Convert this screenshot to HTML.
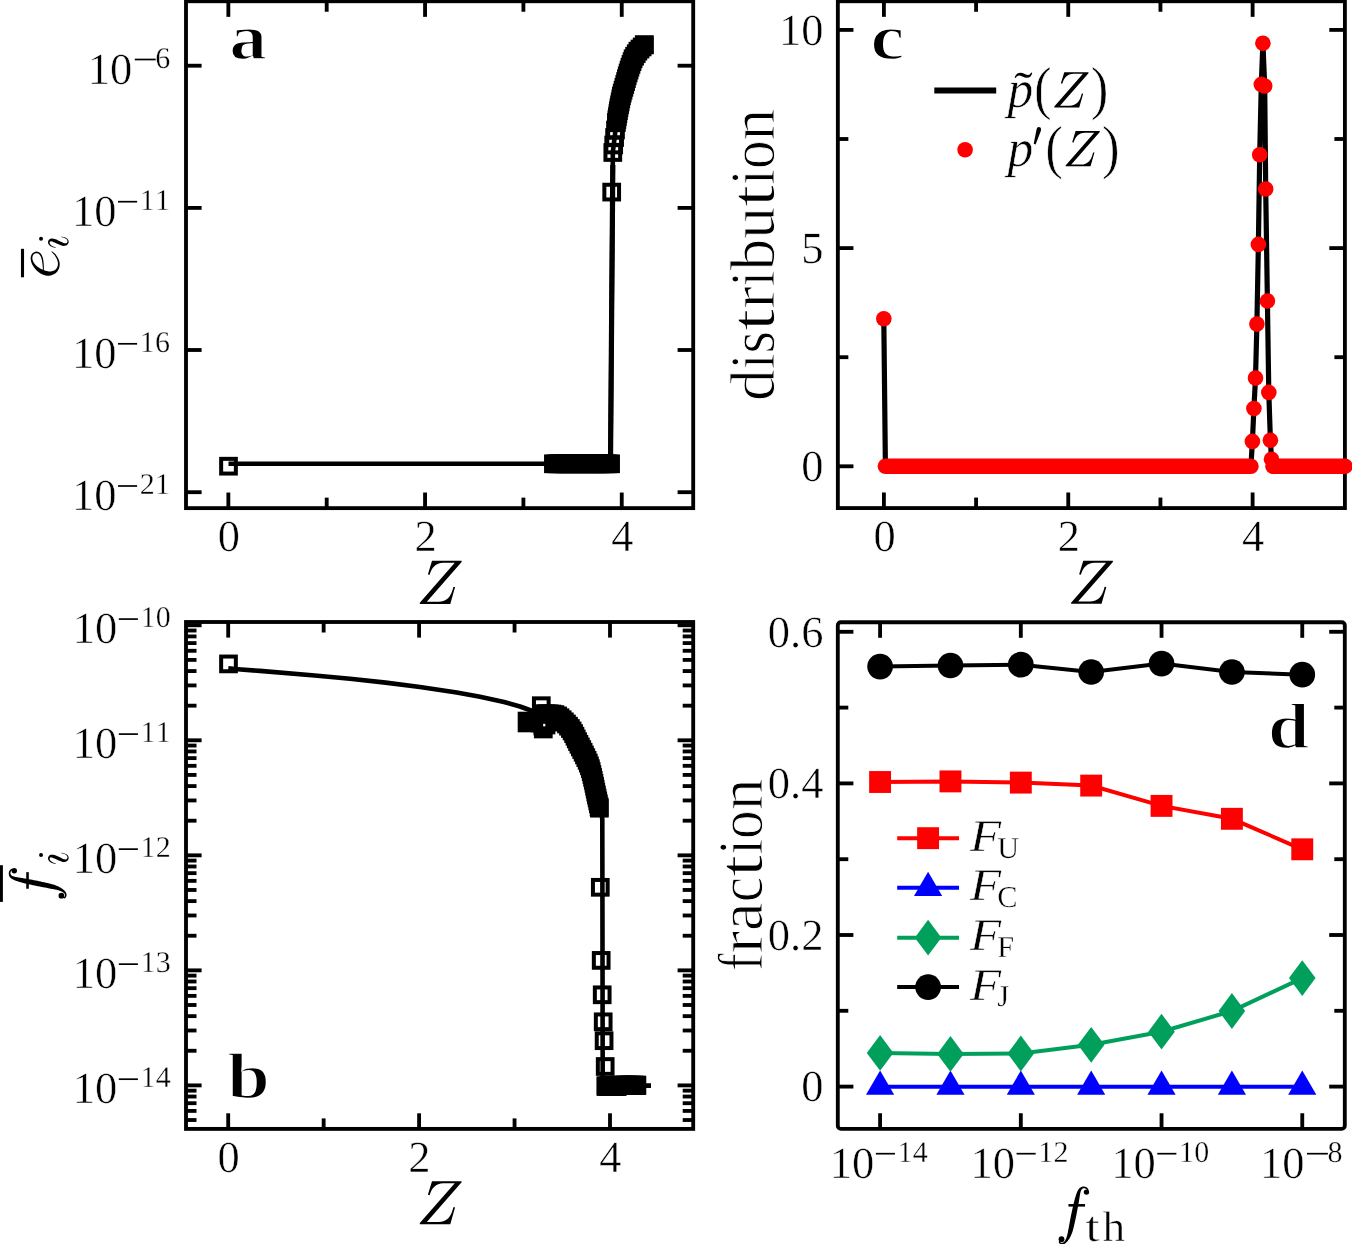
<!DOCTYPE html>
<html><head><meta charset="utf-8"><title>figure</title>
<style>html,body{margin:0;padding:0;background:#fff;}svg{display:block;will-change:transform;}text{text-rendering:geometricPrecision;}</style></head><body>
<svg width="1352" height="1244" viewBox="0 0 1352 1244" font-family='"Liberation Serif", serif' fill="#000">
<rect width="1352" height="1244" fill="#fff"/>
<defs><g id="gf"><path d="M14.95 870.11 L14.78 870.00 L14.54 869.83 L14.24 869.61 L13.89 869.38 L13.51 869.14 L13.10 868.94 L12.65 868.79 L12.16 868.75 L11.71 868.84 L11.31 869.00 L10.93 869.22 L10.59 869.48 L10.27 869.77 L9.98 870.08 L9.72 870.40 L9.49 870.74 L9.29 871.10 L9.13 871.49 L8.99 871.90 L8.88 872.32 L8.80 872.76 L8.75 873.20 L8.73 873.65 L8.76 874.09 L8.81 874.52 L8.89 874.95 L9.01 875.39 L9.16 875.83 L9.36 876.28 L9.60 876.72 L9.90 877.15 L10.25 877.57 L10.65 877.96 L11.09 878.31 L11.56 878.65 L12.05 878.95 L12.55 879.24 L13.06 879.52 L13.57 879.78 L14.10 880.03 L14.64 880.27 L15.20 880.50 L15.77 880.71 L16.35 880.91 L16.94 881.10 L17.54 881.29 L18.16 881.48 L18.82 881.68 L19.49 881.88 L20.14 882.08 L20.81 882.28 L21.51 882.48 L22.28 882.68 L23.14 882.91 L24.11 883.15 L25.24 883.42 L26.53 883.73 L28.00 884.06 L29.58 884.42 L31.25 884.79 L32.97 885.17 L34.71 885.54 L36.42 885.91 L38.07 886.25 L39.72 886.58 L41.44 886.91 L43.19 887.24 L44.92 887.57 L46.59 887.87 L48.18 888.17 L49.63 888.44 L50.92 888.68 L52.03 888.90 L53.00 889.08 L53.85 889.24 L54.61 889.39 L55.30 889.53 L55.95 889.67 L56.59 889.82 L57.25 889.98 L57.90 890.16 L58.50 890.34 L59.07 890.51 L59.61 890.69 L60.13 890.88 L60.62 891.07 L61.09 891.28 L61.55 891.50 L62.00 891.73 L62.43 891.97 L62.85 892.22 L63.23 892.47 L63.59 892.73 L63.90 892.99 L64.17 893.24 L64.39 893.48 L64.57 893.73 L64.71 893.99 L64.82 894.26 L64.90 894.53 L64.95 894.81 L64.98 895.07 L64.98 895.32 L64.96 895.55 L64.92 895.79 L64.84 896.05 L64.73 896.31 L64.60 896.56 L64.46 896.76 L64.34 896.90 L64.26 896.96 L64.27 896.98 L64.21 896.98 L63.96 896.89 L63.62 896.72 L63.24 896.48 L62.85 896.22 L62.49 895.97 L62.17 895.75 L61.93 895.60 L61.28 896.55 L61.48 896.70 L61.76 896.93 L62.11 897.22 L62.50 897.53 L62.92 897.83 L63.36 898.10 L63.82 898.31 L64.35 898.39 L64.86 898.26 L65.26 898.02 L65.58 897.71 L65.84 897.36 L66.06 896.98 L66.24 896.60 L66.38 896.21 L66.48 895.83 L66.54 895.45 L66.57 895.05 L66.55 894.64 L66.50 894.22 L66.42 893.79 L66.29 893.36 L66.12 892.93 L65.90 892.50 L65.64 892.08 L65.34 891.67 L65.00 891.26 L64.64 890.86 L64.25 890.47 L63.83 890.08 L63.40 889.70 L62.95 889.34 L62.48 888.98 L62.00 888.62 L61.49 888.28 L60.96 887.93 L60.40 887.59 L59.80 887.26 L59.17 886.93 L58.51 886.61 L57.84 886.30 L57.18 886.00 L56.50 885.70 L55.78 885.41 L54.99 885.12 L54.11 884.82 L53.11 884.50 L51.98 884.18 L50.66 883.83 L49.19 883.46 L47.60 883.08 L45.92 882.69 L44.20 882.31 L42.46 881.93 L40.75 881.56 L39.10 881.21 L37.45 880.87 L35.73 880.53 L33.99 880.20 L32.25 879.87 L30.57 879.56 L28.98 879.27 L27.51 879.00 L26.21 878.76 L25.08 878.56 L24.10 878.39 L23.24 878.24 L22.47 878.12 L21.77 878.01 L21.10 877.90 L20.45 877.79 L19.76 877.68 L19.08 877.56 L18.43 877.46 L17.82 877.36 L17.25 877.27 L16.72 877.19 L16.21 877.10 L15.72 877.00 L15.23 876.88 L14.72 876.75 L14.22 876.62 L13.73 876.48 L13.28 876.34 L12.86 876.20 L12.48 876.05 L12.15 875.90 L11.88 875.74 L11.64 875.57 L11.41 875.37 L11.21 875.15 L11.03 874.91 L10.87 874.65 L10.73 874.37 L10.62 874.09 L10.54 873.82 L10.48 873.55 L10.46 873.26 L10.46 872.94 L10.49 872.63 L10.55 872.31 L10.63 872.02 L10.72 871.75 L10.83 871.51 L10.96 871.28 L11.14 871.04 L11.33 870.81 L11.55 870.60 L11.77 870.43 L11.98 870.29 L12.16 870.20 L12.28 870.16 L12.40 870.15 L12.62 870.20 L12.92 870.32 L13.25 870.48 L13.58 870.66 L13.89 870.84 L14.16 871.00 L14.38 871.11Z"/><circle cx="14.28" cy="870.74" r="2.70"/><circle cx="61.41" cy="895.69" r="2.89"/><rect x="26.24" y="872.15" width="2.57" height="16.59"/></g><g id="gi"><path d="M55.88 863.51 L55.61 863.42 L55.26 863.31 L54.84 863.18 L54.37 863.03 L53.89 862.86 L53.42 862.68 L52.98 862.49 L52.60 862.29 L52.25 862.08 L51.88 861.85 L51.52 861.61 L51.18 861.35 L50.86 861.09 L50.58 860.83 L50.34 860.56 L50.15 860.31 L50.00 860.05 L49.86 859.77 L49.75 859.48 L49.67 859.20 L49.63 858.93 L49.63 858.69 L49.66 858.49 L49.72 858.34 L49.82 858.17 L49.97 857.97 L50.15 857.78 L50.36 857.60 L50.57 857.45 L50.78 857.36 L50.95 857.32 L51.09 857.33 L51.25 857.37 L51.50 857.43 L51.83 857.53 L52.22 857.67 L52.66 857.84 L53.13 858.03 L53.63 858.24 L54.11 858.43 L54.58 858.62 L55.07 858.83 L55.59 859.07 L56.14 859.33 L56.71 859.60 L57.30 859.87 L57.91 860.14 L58.50 860.38 L59.07 860.60 L59.65 860.84 L60.26 861.08 L60.88 861.32 L61.51 861.54 L62.15 861.74 L62.80 861.89 L63.44 861.98 L64.05 861.99 L64.62 861.94 L65.17 861.85 L65.69 861.71 L66.18 861.52 L66.63 861.29 L67.05 861.03 L67.42 860.72 L67.75 860.37 L68.03 859.97 L68.25 859.55 L68.43 859.11 L68.56 858.66 L68.64 858.20 L68.66 857.74 L68.61 857.30 L68.51 856.89 L68.36 856.47 L68.17 856.06 L67.93 855.65 L67.64 855.25 L67.30 854.87 L66.90 854.52 L66.44 854.21 L65.89 853.93 L65.21 853.68 L64.47 853.45 L63.70 853.24 L62.95 853.05 L62.26 852.89 L61.69 852.75 L61.29 852.65 L61.16 853.08 L61.57 853.21 L62.13 853.38 L62.81 853.58 L63.54 853.80 L64.28 854.05 L64.97 854.31 L65.58 854.59 L66.03 854.86 L66.37 855.14 L66.67 855.46 L66.92 855.79 L67.12 856.13 L67.27 856.47 L67.38 856.81 L67.44 857.13 L67.46 857.42 L67.44 857.69 L67.37 857.97 L67.26 858.25 L67.12 858.53 L66.94 858.79 L66.74 859.01 L66.54 859.17 L66.34 859.28 L66.13 859.35 L65.87 859.40 L65.58 859.42 L65.27 859.42 L64.94 859.39 L64.59 859.35 L64.24 859.27 L63.89 859.18 L63.53 859.06 L63.11 858.89 L62.63 858.67 L62.11 858.42 L61.56 858.15 L60.99 857.86 L60.40 857.57 L59.83 857.31 L59.28 857.06 L58.74 856.79 L58.18 856.52 L57.61 856.24 L57.02 855.96 L56.42 855.70 L55.81 855.46 L55.21 855.27 L54.65 855.11 L54.09 854.97 L53.51 854.85 L52.92 854.75 L52.33 854.68 L51.74 854.65 L51.13 854.69 L50.52 854.82 L49.95 855.07 L49.47 855.40 L49.07 855.78 L48.74 856.20 L48.48 856.63 L48.28 857.06 L48.13 857.49 L48.03 857.93 L48.00 858.38 L48.04 858.82 L48.13 859.24 L48.26 859.65 L48.43 860.04 L48.64 860.42 L48.87 860.77 L49.14 861.10 L49.45 861.42 L49.79 861.71 L50.16 861.99 L50.55 862.25 L50.96 862.49 L51.38 862.72 L51.80 862.92 L52.22 863.11 L52.68 863.28 L53.18 863.42 L53.69 863.55 L54.20 863.65 L54.69 863.75 L55.13 863.83 L55.49 863.89 L55.76 863.95Z"/><circle cx="41.03" cy="854.92" r="1.99"/></g><g id="gz"><path d="M1083.27 560.71L1112.86 560.71L1112.86 561.89L1078.09 601.61L1089.56 601.61C1098.43 601.39 1102.50 596.21 1104.64 586.75L1106.35 586.89L1101.54 603.76L1071.07 603.76L1071.07 602.65L1106.05 562.71L1094.73 562.71C1086.60 562.93 1083.27 567.51 1080.83 574.69L1079.13 574.25Z"/></g></defs>
<g id="pa">
<g fill="none" stroke="#000" stroke-width="4.6">
<polyline stroke-linejoin="miter" points="228.5,463.7 610.5,463.7 612.8,165 612.8,152.5 613.7,145 614.6,137.5 615.5,130 616.4,122.5 616.9,119.5 618.8,108.5 621.5,95.5 624.6,85 627.3,75.5 630.2,66.5 633.4,58 638,51 644.3,44.8"/>
<line x1="610.5" y1="463.7" x2="612.8" y2="165" stroke="#000" stroke-width="5.2" stroke-linecap="butt"/>
<g stroke-width="4">
<rect x="221.15" y="458.85" width="14.7" height="14.7" stroke-width="4"/>
<rect x="546.05" y="456.45" width="14.7" height="14.7" stroke-width="4"/>
<rect x="548.54" y="456.45" width="14.7" height="14.7" stroke-width="4"/>
<rect x="551.02" y="456.45" width="14.7" height="14.7" stroke-width="4"/>
<rect x="553.51" y="456.45" width="14.7" height="14.7" stroke-width="4"/>
<rect x="556" y="456.45" width="14.7" height="14.7" stroke-width="4"/>
<rect x="558.48" y="456.45" width="14.7" height="14.7" stroke-width="4"/>
<rect x="560.97" y="456.45" width="14.7" height="14.7" stroke-width="4"/>
<rect x="563.46" y="456.45" width="14.7" height="14.7" stroke-width="4"/>
<rect x="565.95" y="456.45" width="14.7" height="14.7" stroke-width="4"/>
<rect x="568.43" y="456.45" width="14.7" height="14.7" stroke-width="4"/>
<rect x="570.92" y="456.45" width="14.7" height="14.7" stroke-width="4"/>
<rect x="573.41" y="456.45" width="14.7" height="14.7" stroke-width="4"/>
<rect x="575.89" y="456.45" width="14.7" height="14.7" stroke-width="4"/>
<rect x="578.38" y="456.45" width="14.7" height="14.7" stroke-width="4"/>
<rect x="580.87" y="456.45" width="14.7" height="14.7" stroke-width="4"/>
<rect x="583.35" y="456.45" width="14.7" height="14.7" stroke-width="4"/>
<rect x="585.84" y="456.45" width="14.7" height="14.7" stroke-width="4"/>
<rect x="588.33" y="456.45" width="14.7" height="14.7" stroke-width="4"/>
<rect x="590.82" y="456.45" width="14.7" height="14.7" stroke-width="4"/>
<rect x="593.3" y="456.45" width="14.7" height="14.7" stroke-width="4"/>
<rect x="595.79" y="456.45" width="14.7" height="14.7" stroke-width="4"/>
<rect x="598.28" y="456.45" width="14.7" height="14.7" stroke-width="4"/>
<rect x="600.76" y="456.45" width="14.7" height="14.7" stroke-width="4"/>
<rect x="603.25" y="456.45" width="14.7" height="14.7" stroke-width="4"/>
<rect x="604.35" y="184.75" width="14.7" height="14.7" stroke-width="4"/>
<rect x="605.45" y="145.15" width="14.7" height="14.7" stroke-width="4"/>
<rect x="606.35" y="137.65" width="14.7" height="14.7" stroke-width="4"/>
<rect x="607.25" y="130.15" width="14.7" height="14.7" stroke-width="4"/>
<rect x="608.15" y="122.65" width="14.7" height="14.7" stroke-width="4"/>
<rect x="609.05" y="115.15" width="14.7" height="14.7" stroke-width="4"/>
<rect x="609.54" y="112.19" width="14.7" height="14.7" stroke-width="4"/>
<rect x="610.05" y="109.23" width="14.7" height="14.7" stroke-width="4"/>
<rect x="610.56" y="106.28" width="14.7" height="14.7" stroke-width="4"/>
<rect x="611.07" y="103.32" width="14.7" height="14.7" stroke-width="4"/>
<rect x="611.61" y="100.37" width="14.7" height="14.7" stroke-width="4"/>
<rect x="612.22" y="97.43" width="14.7" height="14.7" stroke-width="4"/>
<rect x="612.83" y="94.5" width="14.7" height="14.7" stroke-width="4"/>
<rect x="613.44" y="91.56" width="14.7" height="14.7" stroke-width="4"/>
<rect x="614.05" y="88.62" width="14.7" height="14.7" stroke-width="4"/>
<rect x="614.86" y="85.73" width="14.7" height="14.7" stroke-width="4"/>
<rect x="615.71" y="82.86" width="14.7" height="14.7" stroke-width="4"/>
<rect x="616.56" y="79.98" width="14.7" height="14.7" stroke-width="4"/>
<rect x="617.41" y="77.1" width="14.7" height="14.7" stroke-width="4"/>
<rect x="618.23" y="74.22" width="14.7" height="14.7" stroke-width="4"/>
<rect x="619.05" y="71.33" width="14.7" height="14.7" stroke-width="4"/>
<rect x="619.87" y="68.44" width="14.7" height="14.7" stroke-width="4"/>
<rect x="620.78" y="65.59" width="14.7" height="14.7" stroke-width="4"/>
<rect x="621.7" y="62.73" width="14.7" height="14.7" stroke-width="4"/>
<rect x="622.62" y="59.87" width="14.7" height="14.7" stroke-width="4"/>
<rect x="623.64" y="57.06" width="14.7" height="14.7" stroke-width="4"/>
<rect x="624.7" y="54.25" width="14.7" height="14.7" stroke-width="4"/>
<rect x="625.75" y="51.44" width="14.7" height="14.7" stroke-width="4"/>
<rect x="627.23" y="48.85" width="14.7" height="14.7" stroke-width="4"/>
<rect x="628.88" y="46.34" width="14.7" height="14.7" stroke-width="4"/>
<rect x="630.53" y="43.83" width="14.7" height="14.7" stroke-width="4"/>
<rect x="632.63" y="41.7" width="14.7" height="14.7" stroke-width="4"/>
<rect x="634.77" y="39.6" width="14.7" height="14.7" stroke-width="4"/>
<rect x="636.91" y="37.49" width="14.7" height="14.7" stroke-width="4"/>
<rect x="636.95" y="37.45" width="14.7" height="14.7" stroke-width="4"/>
</g></g>
<rect x="186" y="1.25" width="507.2" height="506.88" fill="none" stroke="#000" stroke-width="3.85" stroke-linejoin="miter"/>
<line x1="228.35" y1="1.25" x2="228.35" y2="16.85" stroke="#000" stroke-width="3.85" stroke-linecap="butt"/>
<line x1="228.35" y1="508.13" x2="228.35" y2="492.53" stroke="#000" stroke-width="3.85" stroke-linecap="butt"/>
<line x1="425.05" y1="1.25" x2="425.05" y2="16.85" stroke="#000" stroke-width="3.85" stroke-linecap="butt"/>
<line x1="425.05" y1="508.13" x2="425.05" y2="492.53" stroke="#000" stroke-width="3.85" stroke-linecap="butt"/>
<line x1="621.75" y1="1.25" x2="621.75" y2="16.85" stroke="#000" stroke-width="3.85" stroke-linecap="butt"/>
<line x1="621.75" y1="508.13" x2="621.75" y2="492.53" stroke="#000" stroke-width="3.85" stroke-linecap="butt"/>
<line x1="326.7" y1="1.25" x2="326.7" y2="11.75" stroke="#000" stroke-width="3.85" stroke-linecap="butt"/>
<line x1="326.7" y1="508.13" x2="326.7" y2="497.63" stroke="#000" stroke-width="3.85" stroke-linecap="butt"/>
<line x1="523.4" y1="1.25" x2="523.4" y2="11.75" stroke="#000" stroke-width="3.85" stroke-linecap="butt"/>
<line x1="523.4" y1="508.13" x2="523.4" y2="497.63" stroke="#000" stroke-width="3.85" stroke-linecap="butt"/>
<line x1="186" y1="65.7" x2="201.6" y2="65.7" stroke="#000" stroke-width="3.85" stroke-linecap="butt"/>
<line x1="693.2" y1="65.7" x2="677.6" y2="65.7" stroke="#000" stroke-width="3.85" stroke-linecap="butt"/>
<line x1="186" y1="207.9" x2="201.6" y2="207.9" stroke="#000" stroke-width="3.85" stroke-linecap="butt"/>
<line x1="693.2" y1="207.9" x2="677.6" y2="207.9" stroke="#000" stroke-width="3.85" stroke-linecap="butt"/>
<line x1="186" y1="350" x2="201.6" y2="350" stroke="#000" stroke-width="3.85" stroke-linecap="butt"/>
<line x1="693.2" y1="350" x2="677.6" y2="350" stroke="#000" stroke-width="3.85" stroke-linecap="butt"/>
<line x1="186" y1="492.2" x2="201.6" y2="492.2" stroke="#000" stroke-width="3.85" stroke-linecap="butt"/>
<line x1="693.2" y1="492.2" x2="677.6" y2="492.2" stroke="#000" stroke-width="3.85" stroke-linecap="butt"/>
<text x="87.8" y="83.7" font-size="44.5" text-anchor="start"   stroke="#fff" stroke-width="0.49">10</text>
<line x1="134.8" y1="59.5" x2="155.7" y2="59.5" stroke="#000" stroke-width="1.7" stroke-linecap="butt"/>
<text x="170.3" y="67.8" font-size="30" text-anchor="end"   stroke="#fff" stroke-width="0.33">6</text>
<text x="72" y="225.9" font-size="44.5" text-anchor="start"   stroke="#fff" stroke-width="0.49">10</text>
<line x1="118" y1="201.7" x2="137.1" y2="201.7" stroke="#000" stroke-width="1.7" stroke-linecap="butt"/>
<text x="162.5" y="210" font-size="30" text-anchor="middle"   stroke="#fff" stroke-width="0.33">1</text>
<text x="147.2" y="210" font-size="30" text-anchor="middle"   stroke="#fff" stroke-width="0.33">1</text>
<text x="72" y="368" font-size="44.5" text-anchor="start"   stroke="#fff" stroke-width="0.49">10</text>
<line x1="118" y1="343.8" x2="137.1" y2="343.8" stroke="#000" stroke-width="1.7" stroke-linecap="butt"/>
<text x="162.5" y="352.1" font-size="30" text-anchor="middle"   stroke="#fff" stroke-width="0.33">6</text>
<text x="147.2" y="352.1" font-size="30" text-anchor="middle"   stroke="#fff" stroke-width="0.33">1</text>
<text x="72" y="510.2" font-size="44.5" text-anchor="start"   stroke="#fff" stroke-width="0.49">10</text>
<line x1="118" y1="486" x2="137.1" y2="486" stroke="#000" stroke-width="1.7" stroke-linecap="butt"/>
<text x="162.5" y="494.3" font-size="30" text-anchor="middle"   stroke="#fff" stroke-width="0.33">1</text>
<text x="147.2" y="494.3" font-size="30" text-anchor="middle"   stroke="#fff" stroke-width="0.33">2</text>
<text x="228.95" y="551.2" font-size="44.5" text-anchor="middle"  textLength="22.2" lengthAdjust="spacingAndGlyphs" stroke="#fff" stroke-width="0.49">0</text>
<text x="425.65" y="551.2" font-size="44.5" text-anchor="middle"  textLength="22.2" lengthAdjust="spacingAndGlyphs" stroke="#fff" stroke-width="0.49">2</text>
<text x="622.35" y="551.2" font-size="44.5" text-anchor="middle"  textLength="22.2" lengthAdjust="spacingAndGlyphs" stroke="#fff" stroke-width="0.49">4</text>
<use href="#gz" transform="translate(-651.26,0.15)"/>
<text x="229.3" y="59.3" font-size="64.5" text-anchor="start" font-weight="bold" textLength="37.8" lengthAdjust="spacingAndGlyphs" stroke="#fff" stroke-width="1.55">a</text>
<path d="M51.41 251.80 L51.67 252.05 L52.01 252.38 L52.41 252.77 L52.85 253.20 L53.30 253.66 L53.75 254.15 L54.17 254.63 L54.54 255.11 L54.88 255.60 L55.23 256.13 L55.58 256.69 L55.91 257.26 L56.22 257.84 L56.52 258.41 L56.78 258.98 L57.01 259.53 L57.21 260.07 L57.40 260.61 L57.56 261.15 L57.70 261.68 L57.81 262.20 L57.88 262.72 L57.93 263.24 L57.94 263.75 L57.92 264.27 L57.87 264.80 L57.79 265.34 L57.68 265.86 L57.54 266.38 L57.37 266.88 L57.18 267.34 L56.95 267.78 L56.69 268.20 L56.40 268.61 L56.09 269.00 L55.76 269.35 L55.40 269.68 L55.02 269.98 L54.63 270.24 L54.20 270.47 L53.73 270.67 L53.19 270.87 L52.61 271.04 L52.00 271.18 L51.38 271.30 L50.76 271.39 L50.18 271.44 L49.64 271.46 L49.14 271.45 L48.64 271.40 L48.13 271.33 L47.61 271.23 L47.08 271.11 L46.53 270.97 L45.97 270.81 L45.40 270.65 L44.83 270.47 L44.25 270.29 L43.66 270.08 L43.06 269.85 L42.45 269.60 L41.84 269.33 L41.25 269.05 L40.68 268.75 L40.11 268.43 L39.53 268.09 L38.95 267.73 L38.38 267.35 L37.82 266.95 L37.29 266.53 L36.78 266.11 L36.30 265.67 L35.85 265.23 L35.41 264.76 L35.00 264.27 L34.60 263.77 L34.24 263.26 L33.90 262.75 L33.60 262.24 L33.33 261.73 L33.10 261.22 L32.90 260.70 L32.72 260.18 L32.58 259.65 L32.48 259.13 L32.41 258.63 L32.37 258.14 L32.38 257.69 L32.42 257.24 L32.50 256.78 L32.62 256.34 L32.77 255.90 L32.95 255.50 L33.16 255.12 L33.38 254.79 L33.61 254.50 L33.87 254.25 L34.18 254.01 L34.53 253.79 L34.91 253.60 L35.30 253.45 L35.69 253.33 L36.06 253.25 L36.40 253.21 L36.74 253.22 L37.09 253.27 L37.46 253.35 L37.82 253.47 L38.18 253.62 L38.53 253.81 L38.86 254.04 L39.16 254.29 L39.45 254.58 L39.74 254.93 L40.03 255.33 L40.30 255.78 L40.57 256.26 L40.82 256.78 L41.05 257.31 L41.26 257.86 L41.45 258.42 L41.62 259.02 L41.77 259.64 L41.90 260.30 L42.03 260.98 L42.14 261.68 L42.25 262.41 L42.35 263.16 L42.45 263.97 L42.55 264.89 L42.63 265.86 L42.71 266.84 L42.78 267.77 L42.84 268.62 L42.89 269.34 L42.93 269.87 L43.95 269.81 L43.93 269.28 L43.91 268.57 L43.88 267.72 L43.85 266.77 L43.81 265.78 L43.76 264.80 L43.70 263.86 L43.63 263.01 L43.55 262.25 L43.47 261.50 L43.38 260.77 L43.27 260.06 L43.16 259.36 L43.02 258.68 L42.85 258.02 L42.66 257.38 L42.44 256.76 L42.21 256.16 L41.94 255.58 L41.66 255.02 L41.35 254.48 L41.02 253.98 L40.65 253.52 L40.26 253.11 L39.83 252.75 L39.37 252.43 L38.89 252.17 L38.39 251.96 L37.88 251.79 L37.37 251.68 L36.85 251.62 L36.33 251.61 L35.81 251.66 L35.28 251.77 L34.76 251.93 L34.24 252.14 L33.75 252.40 L33.27 252.69 L32.83 253.03 L32.43 253.41 L32.09 253.83 L31.78 254.29 L31.51 254.78 L31.27 255.30 L31.07 255.85 L30.91 256.41 L30.79 256.98 L30.71 257.56 L30.67 258.14 L30.68 258.75 L30.72 259.36 L30.80 259.99 L30.91 260.62 L31.06 261.25 L31.23 261.88 L31.43 262.51 L31.66 263.14 L31.92 263.78 L32.22 264.42 L32.54 265.06 L32.90 265.70 L33.28 266.34 L33.69 266.96 L34.12 267.57 L34.57 268.17 L35.06 268.78 L35.58 269.37 L36.12 269.95 L36.68 270.52 L37.27 271.07 L37.87 271.59 L38.49 272.09 L39.12 272.55 L39.78 273.00 L40.46 273.43 L41.16 273.83 L41.87 274.20 L42.59 274.53 L43.32 274.83 L44.05 275.08 L44.77 275.28 L45.50 275.45 L46.23 275.58 L46.99 275.67 L47.76 275.72 L48.53 275.72 L49.32 275.66 L50.10 275.55 L50.88 275.38 L51.66 275.15 L52.42 274.86 L53.17 274.54 L53.89 274.18 L54.58 273.79 L55.23 273.38 L55.83 272.94 L56.37 272.47 L56.86 271.98 L57.31 271.46 L57.70 270.92 L58.05 270.37 L58.36 269.81 L58.63 269.25 L58.87 268.68 L59.09 268.09 L59.27 267.48 L59.42 266.86 L59.54 266.23 L59.62 265.59 L59.67 264.96 L59.69 264.33 L59.68 263.71 L59.63 263.10 L59.54 262.48 L59.43 261.88 L59.28 261.28 L59.11 260.68 L58.90 260.09 L58.68 259.51 L58.43 258.93 L58.14 258.33 L57.82 257.73 L57.48 257.13 L57.11 256.54 L56.72 255.95 L56.32 255.39 L55.91 254.85 L55.49 254.34 L55.04 253.85 L54.54 253.37 L54.02 252.91 L53.50 252.48 L53.01 252.08 L52.57 251.74 L52.20 251.45 L51.93 251.23Z"/>
<line x1="22.5" y1="248.8" x2="22.5" y2="277.3" stroke="#000" stroke-width="3.1" stroke-linecap="butt"/>
<use href="#gi" transform="translate(0,-616.1)"/>
</g>
<g id="pc">
<rect x="837.85" y="1.25" width="507.05" height="506.83" fill="none" stroke="#000" stroke-width="3.85" stroke-linejoin="miter"/>
<line x1="883.9" y1="1.25" x2="883.9" y2="16.85" stroke="#000" stroke-width="3.85" stroke-linecap="butt"/>
<line x1="883.9" y1="508.08" x2="883.9" y2="492.48" stroke="#000" stroke-width="3.85" stroke-linecap="butt"/>
<line x1="1068.26" y1="1.25" x2="1068.26" y2="16.85" stroke="#000" stroke-width="3.85" stroke-linecap="butt"/>
<line x1="1068.26" y1="508.08" x2="1068.26" y2="492.48" stroke="#000" stroke-width="3.85" stroke-linecap="butt"/>
<line x1="1252.62" y1="1.25" x2="1252.62" y2="16.85" stroke="#000" stroke-width="3.85" stroke-linecap="butt"/>
<line x1="1252.62" y1="508.08" x2="1252.62" y2="492.48" stroke="#000" stroke-width="3.85" stroke-linecap="butt"/>
<line x1="976.08" y1="1.25" x2="976.08" y2="11.75" stroke="#000" stroke-width="3.85" stroke-linecap="butt"/>
<line x1="976.08" y1="508.08" x2="976.08" y2="497.58" stroke="#000" stroke-width="3.85" stroke-linecap="butt"/>
<line x1="1160.44" y1="1.25" x2="1160.44" y2="11.75" stroke="#000" stroke-width="3.85" stroke-linecap="butt"/>
<line x1="1160.44" y1="508.08" x2="1160.44" y2="497.58" stroke="#000" stroke-width="3.85" stroke-linecap="butt"/>
<line x1="837.85" y1="466.3" x2="853.45" y2="466.3" stroke="#000" stroke-width="3.85" stroke-linecap="butt"/>
<line x1="1344.9" y1="466.3" x2="1329.3" y2="466.3" stroke="#000" stroke-width="3.85" stroke-linecap="butt"/>
<line x1="837.85" y1="248.1" x2="853.45" y2="248.1" stroke="#000" stroke-width="3.85" stroke-linecap="butt"/>
<line x1="1344.9" y1="248.1" x2="1329.3" y2="248.1" stroke="#000" stroke-width="3.85" stroke-linecap="butt"/>
<line x1="837.85" y1="29.9" x2="853.45" y2="29.9" stroke="#000" stroke-width="3.85" stroke-linecap="butt"/>
<line x1="1344.9" y1="29.9" x2="1329.3" y2="29.9" stroke="#000" stroke-width="3.85" stroke-linecap="butt"/>
<line x1="837.85" y1="357.2" x2="848.35" y2="357.2" stroke="#000" stroke-width="3.85" stroke-linecap="butt"/>
<line x1="1344.9" y1="357.2" x2="1334.4" y2="357.2" stroke="#000" stroke-width="3.85" stroke-linecap="butt"/>
<line x1="837.85" y1="139" x2="848.35" y2="139" stroke="#000" stroke-width="3.85" stroke-linecap="butt"/>
<line x1="1344.9" y1="139" x2="1334.4" y2="139" stroke="#000" stroke-width="3.85" stroke-linecap="butt"/>
<polyline fill="none" stroke="#000" stroke-width="5.2" stroke-linejoin="round" points="883.8,318.7 885.4,466.3 1250.9,466.3 1252.4,441.4 1253.9,408.6 1255.5,378.1 1256.9,324.1 1258.4,244.4 1259.7,154.8 1261.3,84.4 1262.9,43.2 1264.7,86 1265.7,189 1267.4,301 1268.8,392.4 1270.4,440.3 1271.5,459.2 1273,466.3 1345,466.3"/>
<g fill="#f00">
<line x1="885.4" y1="466.3" x2="1250.9" y2="466.3" stroke="#f00" stroke-width="15.6" stroke-linecap="round"/>
<line x1="1273" y1="466.3" x2="1345" y2="466.3" stroke="#f00" stroke-width="15.6" stroke-linecap="round"/>
<circle cx="883.8" cy="318.7" r="7.8"/>
<circle cx="1252.4" cy="441.4" r="7.8"/>
<circle cx="1253.9" cy="408.6" r="7.8"/>
<circle cx="1255.5" cy="378.1" r="7.8"/>
<circle cx="1256.9" cy="324.1" r="7.8"/>
<circle cx="1258.4" cy="244.4" r="7.8"/>
<circle cx="1259.7" cy="154.8" r="7.8"/>
<circle cx="1261.3" cy="84.4" r="7.8"/>
<circle cx="1262.9" cy="43.2" r="7.8"/>
<circle cx="1264.7" cy="86" r="7.8"/>
<circle cx="1265.7" cy="189" r="7.8"/>
<circle cx="1267.4" cy="301" r="7.8"/>
<circle cx="1268.8" cy="392.4" r="7.8"/>
<circle cx="1270.4" cy="440.3" r="7.8"/>
<circle cx="1271.5" cy="459.2" r="7.8"/>
</g>
<text x="823.5" y="45" font-size="44.5" text-anchor="end"   stroke="#fff" stroke-width="0.49">10</text>
<text x="823.4" y="263" font-size="44.5" text-anchor="end"   stroke="#fff" stroke-width="0.49">5</text>
<text x="823.6" y="481.2" font-size="44.5" text-anchor="end"   stroke="#fff" stroke-width="0.49">0</text>
<text x="884.5" y="551.2" font-size="44.5" text-anchor="middle"  textLength="22.2" lengthAdjust="spacingAndGlyphs" stroke="#fff" stroke-width="0.49">0</text>
<text x="1068.86" y="551.2" font-size="44.5" text-anchor="middle"  textLength="22.2" lengthAdjust="spacingAndGlyphs" stroke="#fff" stroke-width="0.49">2</text>
<text x="1253.22" y="551.2" font-size="44.5" text-anchor="middle"  textLength="22.2" lengthAdjust="spacingAndGlyphs" stroke="#fff" stroke-width="0.49">4</text>
<use href="#gz"/>
<text x="870.4" y="58.9" font-size="64.5" text-anchor="start" font-weight="bold" textLength="33.8" lengthAdjust="spacingAndGlyphs" stroke="#fff" stroke-width="1.55">c</text>
<g transform="translate(774,401.07) rotate(-90)">
<text x="0" y="0" font-size="63.5" text-anchor="start"  textLength="31.72" lengthAdjust="spacingAndGlyphs" stroke="#fff" stroke-width="1.0" >d</text>
<text x="31.72" y="0" font-size="63.5" text-anchor="start"  textLength="15.86" lengthAdjust="spacingAndGlyphs" stroke="#fff" stroke-width="1.0" >i</text>
<text x="47.59" y="0" font-size="63.5" text-anchor="start"  textLength="22.52" lengthAdjust="spacingAndGlyphs" stroke="#fff" stroke-width="1.0" >s</text>
<text x="70.11" y="0" font-size="63.5" text-anchor="start"  textLength="22.21" lengthAdjust="spacingAndGlyphs" stroke="#fff" stroke-width="1.0" >t</text>
<text x="92.31" y="0" font-size="63.5" text-anchor="start"  textLength="22.37" lengthAdjust="spacingAndGlyphs" stroke="#fff" stroke-width="1.0" >r</text>
<text x="114.68" y="0" font-size="63.5" text-anchor="start"  textLength="15.86" lengthAdjust="spacingAndGlyphs" stroke="#fff" stroke-width="1.0" >i</text>
<text x="130.54" y="0" font-size="63.5" text-anchor="start"  textLength="31.72" lengthAdjust="spacingAndGlyphs" stroke="#fff" stroke-width="1.0" >b</text>
<text x="162.27" y="0" font-size="63.5" text-anchor="start"  textLength="31.72" lengthAdjust="spacingAndGlyphs" stroke="#fff" stroke-width="1.0" >u</text>
<text x="193.99" y="0" font-size="63.5" text-anchor="start"  textLength="22.21" lengthAdjust="spacingAndGlyphs" stroke="#fff" stroke-width="1.0" >t</text>
<text x="216.2" y="0" font-size="63.5" text-anchor="start"  textLength="15.86" lengthAdjust="spacingAndGlyphs" stroke="#fff" stroke-width="1.0" >i</text>
<text x="232.06" y="0" font-size="63.5" text-anchor="start"  textLength="28.55" lengthAdjust="spacingAndGlyphs" stroke="#fff" stroke-width="1.0" >o</text>
<text x="260.61" y="0" font-size="63.5" text-anchor="start"  textLength="31.72" lengthAdjust="spacingAndGlyphs" stroke="#fff" stroke-width="1.0" >n</text>
</g>
<line x1="934.3" y1="90.5" x2="996.2" y2="90.5" stroke="#000" stroke-width="5.8" stroke-linecap="butt"/>
<circle cx="965.1" cy="149.8" r="7.8" fill="#f00"/>
<text x="1007.4" y="107.2" font-size="53" text-anchor="start" font-style="italic" textLength="25.8" lengthAdjust="spacingAndGlyphs" stroke="#fff" stroke-width="0.58">p</text>
<path d="M1014.6 77.4 q1.6 -4.6 5.6 -4.6 q2.2 0 4.6 1.2 q2 1 3.2 1 q2 0 3.2 -2.6 l1.1 0.5 q-1.4 4.9 -5.4 4.9 q-2 0 -4.6 -1.3 q-2 -1 -3.2 -1 q-2.2 0 -3.4 2.5z"/>
<text x="1034" y="106.7" font-size="53" text-anchor="start"  transform="translate(0,97.5) scale(1,1.121) translate(0,-97.5)" stroke="#fff" stroke-width="0.58">(</text>
<use href="#gz" transform="translate(178.16,-386.44) scale(0.818)"/>
<text x="1090.8" y="106.7" font-size="53" text-anchor="start"  transform="translate(0,97.5) scale(1,1.121) translate(0,-97.5)" stroke="#fff" stroke-width="0.58">)</text>
<text x="1007.4" y="166.1" font-size="53" text-anchor="start" font-style="italic" textLength="25.8" lengthAdjust="spacingAndGlyphs" stroke="#fff" stroke-width="0.58">p</text>
<path d="M1038.7 126.9 q2.4 0 2.4 2.4 q0 0.9 -0.5 2.2 l-5.0 12.9 l-1.9 -0.6 l2.9 -14.6 q0.4 -2.3 2.1 -2.3z"/>
<text x="1045.3" y="165.6" font-size="53" text-anchor="start"  transform="translate(0,156.4) scale(1,1.121) translate(0,-156.4)" stroke="#fff" stroke-width="0.58">(</text>
<use href="#gz" transform="translate(189.46,-327.54) scale(0.818)"/>
<text x="1102.1" y="165.6" font-size="53" text-anchor="start"  transform="translate(0,156.4) scale(1,1.121) translate(0,-156.4)" stroke="#fff" stroke-width="0.58">)</text>
</g>
<g id="pb">
<g fill="none" stroke="#000" stroke-width="4.6">
<polyline stroke-linejoin="round" points="228.3,668.3 237.8,669.2 260,670.9 314.7,675.5 350,678.8 385.7,682.6 420,687 456.7,692.5 480,696.8 504,702 520,706.5 532.4,711 543,713.8 549,713.8 556,715 563,720.5 571.5,730 578,742.5 583.5,753 589.5,766 593.2,780 599.5,800 601.6,810 602.3,820 602.7,1085.6 651,1085.6"/>
<rect x="221.15" y="656.55" width="14.7" height="14.7" stroke-width="4"/>
<rect x="533.95" y="698.35" width="14.7" height="14.7" stroke-width="4"/>
<rect x="520.45" y="714.65" width="14.7" height="14.7" stroke-width="4"/>
<rect x="523.15" y="714.65" width="14.7" height="14.7" stroke-width="4"/>
<rect x="520" y="714" width="15" height="16" fill="#000"/>
<rect x="535.45" y="718.65" width="14.7" height="14.7" stroke-width="4"/>
<rect x="532.65" y="715.65" width="14.7" height="14.7" stroke-width="4"/>
<rect x="537.15" y="713.65" width="14.7" height="14.7" stroke-width="4"/>
<rect x="538.65" y="717.65" width="14.7" height="14.7" stroke-width="4"/>
<rect x="535.95" y="721.65" width="14.7" height="14.7" stroke-width="4"/>
<rect x="541.15" y="714.65" width="14.7" height="14.7" stroke-width="4"/>
<rect x="535.65" y="706.45" width="14.7" height="14.7" stroke-width="4"/>
<rect x="538.65" y="706.37" width="14.7" height="14.7" stroke-width="4"/>
<rect x="541.65" y="706.45" width="14.7" height="14.7" stroke-width="4"/>
<rect x="544.64" y="706.67" width="14.7" height="14.7" stroke-width="4"/>
<rect x="547.58" y="707.23" width="14.7" height="14.7" stroke-width="4"/>
<rect x="550.25" y="708.57" width="14.7" height="14.7" stroke-width="4"/>
<rect x="552.64" y="710.38" width="14.7" height="14.7" stroke-width="4"/>
<rect x="554.86" y="712.4" width="14.7" height="14.7" stroke-width="4"/>
<rect x="557.02" y="714.48" width="14.7" height="14.7" stroke-width="4"/>
<rect x="559.12" y="716.62" width="14.7" height="14.7" stroke-width="4"/>
<rect x="561.15" y="718.83" width="14.7" height="14.7" stroke-width="4"/>
<rect x="563.05" y="721.15" width="14.7" height="14.7" stroke-width="4"/>
<rect x="564.75" y="723.62" width="14.7" height="14.7" stroke-width="4"/>
<rect x="566.25" y="726.21" width="14.7" height="14.7" stroke-width="4"/>
<rect x="567.61" y="728.89" width="14.7" height="14.7" stroke-width="4"/>
<rect x="568.91" y="731.59" width="14.7" height="14.7" stroke-width="4"/>
<rect x="570.22" y="734.29" width="14.7" height="14.7" stroke-width="4"/>
<rect x="571.6" y="736.95" width="14.7" height="14.7" stroke-width="4"/>
<rect x="573.02" y="739.6" width="14.7" height="14.7" stroke-width="4"/>
<rect x="574.42" y="742.25" width="14.7" height="14.7" stroke-width="4"/>
<rect x="575.79" y="744.92" width="14.7" height="14.7" stroke-width="4"/>
<rect x="577.12" y="747.61" width="14.7" height="14.7" stroke-width="4"/>
<rect x="578.46" y="750.29" width="14.7" height="14.7" stroke-width="4"/>
<rect x="579.76" y="753" width="14.7" height="14.7" stroke-width="4"/>
<rect x="580.99" y="755.73" width="14.7" height="14.7" stroke-width="4"/>
<rect x="582.1" y="758.52" width="14.7" height="14.7" stroke-width="4"/>
<rect x="583.04" y="761.37" width="14.7" height="14.7" stroke-width="4"/>
<rect x="583.84" y="764.26" width="14.7" height="14.7" stroke-width="4"/>
<rect x="584.57" y="767.17" width="14.7" height="14.7" stroke-width="4"/>
<rect x="585.25" y="770.09" width="14.7" height="14.7" stroke-width="4"/>
<rect x="585.93" y="773.01" width="14.7" height="14.7" stroke-width="4"/>
<rect x="586.6" y="775.94" width="14.7" height="14.7" stroke-width="4"/>
<rect x="587.22" y="778.87" width="14.7" height="14.7" stroke-width="4"/>
<rect x="587.83" y="781.81" width="14.7" height="14.7" stroke-width="4"/>
<rect x="588.44" y="784.75" width="14.7" height="14.7" stroke-width="4"/>
<rect x="589.08" y="787.68" width="14.7" height="14.7" stroke-width="4"/>
<rect x="589.73" y="790.61" width="14.7" height="14.7" stroke-width="4"/>
<rect x="590.39" y="793.53" width="14.7" height="14.7" stroke-width="4"/>
<rect x="591.05" y="796.46" width="14.7" height="14.7" stroke-width="4"/>
<rect x="591.72" y="799.38" width="14.7" height="14.7" stroke-width="4"/>
<rect x="592.05" y="800.85" width="14.7" height="14.7" stroke-width="4"/>
<rect x="592.95" y="879.95" width="14.7" height="14.7" stroke-width="4"/>
<rect x="593.85" y="953.05" width="14.7" height="14.7" stroke-width="4"/>
<rect x="594.85" y="987.45" width="14.7" height="14.7" stroke-width="4"/>
<rect x="595.85" y="1014.45" width="14.7" height="14.7" stroke-width="4"/>
<rect x="596.75" y="1033.35" width="14.7" height="14.7" stroke-width="4"/>
<rect x="597.85" y="1059.15" width="14.7" height="14.7" stroke-width="4"/>
<rect x="598.65" y="1079.25" width="14.7" height="14.7" stroke-width="4"/>
<rect x="598.65" y="1078.25" width="14.7" height="14.7" stroke-width="4"/>
<rect x="601.45" y="1079.25" width="14.7" height="14.7" stroke-width="4"/>
<rect x="601.45" y="1078.25" width="14.7" height="14.7" stroke-width="4"/>
<rect x="604.25" y="1079.25" width="14.7" height="14.7" stroke-width="4"/>
<rect x="604.25" y="1078.25" width="14.7" height="14.7" stroke-width="4"/>
<rect x="607.05" y="1079.25" width="14.7" height="14.7" stroke-width="4"/>
<rect x="607.05" y="1078.25" width="14.7" height="14.7" stroke-width="4"/>
<rect x="609.85" y="1079.25" width="14.7" height="14.7" stroke-width="4"/>
<rect x="609.85" y="1078.25" width="14.7" height="14.7" stroke-width="4"/>
<rect x="612.65" y="1077.65" width="14.7" height="14.7" stroke-width="4"/>
<rect x="612.65" y="1078.25" width="14.7" height="14.7" stroke-width="4"/>
<rect x="615.45" y="1077.65" width="14.7" height="14.7" stroke-width="4"/>
<rect x="615.45" y="1078.25" width="14.7" height="14.7" stroke-width="4"/>
<rect x="618.25" y="1077.65" width="14.7" height="14.7" stroke-width="4"/>
<rect x="618.25" y="1078.25" width="14.7" height="14.7" stroke-width="4"/>
<rect x="621.05" y="1077.65" width="14.7" height="14.7" stroke-width="4"/>
<rect x="621.05" y="1078.25" width="14.7" height="14.7" stroke-width="4"/>
<rect x="623.85" y="1077.65" width="14.7" height="14.7" stroke-width="4"/>
<rect x="623.85" y="1078.25" width="14.7" height="14.7" stroke-width="4"/>
<rect x="626.65" y="1077.65" width="14.7" height="14.7" stroke-width="4"/>
<rect x="626.65" y="1078.25" width="14.7" height="14.7" stroke-width="4"/>
<rect x="629.45" y="1077.65" width="14.7" height="14.7" stroke-width="4"/>
<rect x="629.45" y="1078.25" width="14.7" height="14.7" stroke-width="4"/>
</g>
<rect x="186" y="622" width="507.2" height="506.9" fill="none" stroke="#000" stroke-width="3.85" stroke-linejoin="miter"/>
<line x1="228.2" y1="622" x2="228.2" y2="637.6" stroke="#000" stroke-width="3.85" stroke-linecap="butt"/>
<line x1="228.2" y1="1128.9" x2="228.2" y2="1113.3" stroke="#000" stroke-width="3.85" stroke-linecap="butt"/>
<line x1="419.1" y1="622" x2="419.1" y2="637.6" stroke="#000" stroke-width="3.85" stroke-linecap="butt"/>
<line x1="419.1" y1="1128.9" x2="419.1" y2="1113.3" stroke="#000" stroke-width="3.85" stroke-linecap="butt"/>
<line x1="610" y1="622" x2="610" y2="637.6" stroke="#000" stroke-width="3.85" stroke-linecap="butt"/>
<line x1="610" y1="1128.9" x2="610" y2="1113.3" stroke="#000" stroke-width="3.85" stroke-linecap="butt"/>
<line x1="323.65" y1="622" x2="323.65" y2="632.5" stroke="#000" stroke-width="3.85" stroke-linecap="butt"/>
<line x1="323.65" y1="1128.9" x2="323.65" y2="1118.4" stroke="#000" stroke-width="3.85" stroke-linecap="butt"/>
<line x1="514.55" y1="622" x2="514.55" y2="632.5" stroke="#000" stroke-width="3.85" stroke-linecap="butt"/>
<line x1="514.55" y1="1128.9" x2="514.55" y2="1118.4" stroke="#000" stroke-width="3.85" stroke-linecap="butt"/>
<line x1="186" y1="625.27" x2="201.6" y2="625.27" stroke="#000" stroke-width="3.85" stroke-linecap="butt"/>
<line x1="693.2" y1="625.27" x2="677.6" y2="625.27" stroke="#000" stroke-width="3.85" stroke-linecap="butt"/>
<line x1="186" y1="740.3" x2="201.6" y2="740.3" stroke="#000" stroke-width="3.85" stroke-linecap="butt"/>
<line x1="693.2" y1="740.3" x2="677.6" y2="740.3" stroke="#000" stroke-width="3.85" stroke-linecap="butt"/>
<line x1="186" y1="855.33" x2="201.6" y2="855.33" stroke="#000" stroke-width="3.85" stroke-linecap="butt"/>
<line x1="693.2" y1="855.33" x2="677.6" y2="855.33" stroke="#000" stroke-width="3.85" stroke-linecap="butt"/>
<line x1="186" y1="970.36" x2="201.6" y2="970.36" stroke="#000" stroke-width="3.85" stroke-linecap="butt"/>
<line x1="693.2" y1="970.36" x2="677.6" y2="970.36" stroke="#000" stroke-width="3.85" stroke-linecap="butt"/>
<line x1="186" y1="1085.39" x2="201.6" y2="1085.39" stroke="#000" stroke-width="3.85" stroke-linecap="butt"/>
<line x1="693.2" y1="1085.39" x2="677.6" y2="1085.39" stroke="#000" stroke-width="3.85" stroke-linecap="butt"/>
<line x1="186" y1="705.67" x2="196.5" y2="705.67" stroke="#000" stroke-width="3.85" stroke-linecap="butt"/>
<line x1="693.2" y1="705.67" x2="682.7" y2="705.67" stroke="#000" stroke-width="3.85" stroke-linecap="butt"/>
<line x1="186" y1="685.42" x2="196.5" y2="685.42" stroke="#000" stroke-width="3.85" stroke-linecap="butt"/>
<line x1="693.2" y1="685.42" x2="682.7" y2="685.42" stroke="#000" stroke-width="3.85" stroke-linecap="butt"/>
<line x1="186" y1="671.05" x2="196.5" y2="671.05" stroke="#000" stroke-width="3.85" stroke-linecap="butt"/>
<line x1="693.2" y1="671.05" x2="682.7" y2="671.05" stroke="#000" stroke-width="3.85" stroke-linecap="butt"/>
<line x1="186" y1="659.9" x2="196.5" y2="659.9" stroke="#000" stroke-width="3.85" stroke-linecap="butt"/>
<line x1="693.2" y1="659.9" x2="682.7" y2="659.9" stroke="#000" stroke-width="3.85" stroke-linecap="butt"/>
<line x1="186" y1="650.79" x2="196.5" y2="650.79" stroke="#000" stroke-width="3.85" stroke-linecap="butt"/>
<line x1="693.2" y1="650.79" x2="682.7" y2="650.79" stroke="#000" stroke-width="3.85" stroke-linecap="butt"/>
<line x1="186" y1="643.09" x2="196.5" y2="643.09" stroke="#000" stroke-width="3.85" stroke-linecap="butt"/>
<line x1="693.2" y1="643.09" x2="682.7" y2="643.09" stroke="#000" stroke-width="3.85" stroke-linecap="butt"/>
<line x1="186" y1="636.42" x2="196.5" y2="636.42" stroke="#000" stroke-width="3.85" stroke-linecap="butt"/>
<line x1="693.2" y1="636.42" x2="682.7" y2="636.42" stroke="#000" stroke-width="3.85" stroke-linecap="butt"/>
<line x1="186" y1="630.53" x2="196.5" y2="630.53" stroke="#000" stroke-width="3.85" stroke-linecap="butt"/>
<line x1="693.2" y1="630.53" x2="682.7" y2="630.53" stroke="#000" stroke-width="3.85" stroke-linecap="butt"/>
<line x1="186" y1="820.7" x2="196.5" y2="820.7" stroke="#000" stroke-width="3.85" stroke-linecap="butt"/>
<line x1="693.2" y1="820.7" x2="682.7" y2="820.7" stroke="#000" stroke-width="3.85" stroke-linecap="butt"/>
<line x1="186" y1="800.45" x2="196.5" y2="800.45" stroke="#000" stroke-width="3.85" stroke-linecap="butt"/>
<line x1="693.2" y1="800.45" x2="682.7" y2="800.45" stroke="#000" stroke-width="3.85" stroke-linecap="butt"/>
<line x1="186" y1="786.08" x2="196.5" y2="786.08" stroke="#000" stroke-width="3.85" stroke-linecap="butt"/>
<line x1="693.2" y1="786.08" x2="682.7" y2="786.08" stroke="#000" stroke-width="3.85" stroke-linecap="butt"/>
<line x1="186" y1="774.93" x2="196.5" y2="774.93" stroke="#000" stroke-width="3.85" stroke-linecap="butt"/>
<line x1="693.2" y1="774.93" x2="682.7" y2="774.93" stroke="#000" stroke-width="3.85" stroke-linecap="butt"/>
<line x1="186" y1="765.82" x2="196.5" y2="765.82" stroke="#000" stroke-width="3.85" stroke-linecap="butt"/>
<line x1="693.2" y1="765.82" x2="682.7" y2="765.82" stroke="#000" stroke-width="3.85" stroke-linecap="butt"/>
<line x1="186" y1="758.12" x2="196.5" y2="758.12" stroke="#000" stroke-width="3.85" stroke-linecap="butt"/>
<line x1="693.2" y1="758.12" x2="682.7" y2="758.12" stroke="#000" stroke-width="3.85" stroke-linecap="butt"/>
<line x1="186" y1="751.45" x2="196.5" y2="751.45" stroke="#000" stroke-width="3.85" stroke-linecap="butt"/>
<line x1="693.2" y1="751.45" x2="682.7" y2="751.45" stroke="#000" stroke-width="3.85" stroke-linecap="butt"/>
<line x1="186" y1="745.56" x2="196.5" y2="745.56" stroke="#000" stroke-width="3.85" stroke-linecap="butt"/>
<line x1="693.2" y1="745.56" x2="682.7" y2="745.56" stroke="#000" stroke-width="3.85" stroke-linecap="butt"/>
<line x1="186" y1="935.73" x2="196.5" y2="935.73" stroke="#000" stroke-width="3.85" stroke-linecap="butt"/>
<line x1="693.2" y1="935.73" x2="682.7" y2="935.73" stroke="#000" stroke-width="3.85" stroke-linecap="butt"/>
<line x1="186" y1="915.48" x2="196.5" y2="915.48" stroke="#000" stroke-width="3.85" stroke-linecap="butt"/>
<line x1="693.2" y1="915.48" x2="682.7" y2="915.48" stroke="#000" stroke-width="3.85" stroke-linecap="butt"/>
<line x1="186" y1="901.11" x2="196.5" y2="901.11" stroke="#000" stroke-width="3.85" stroke-linecap="butt"/>
<line x1="693.2" y1="901.11" x2="682.7" y2="901.11" stroke="#000" stroke-width="3.85" stroke-linecap="butt"/>
<line x1="186" y1="889.96" x2="196.5" y2="889.96" stroke="#000" stroke-width="3.85" stroke-linecap="butt"/>
<line x1="693.2" y1="889.96" x2="682.7" y2="889.96" stroke="#000" stroke-width="3.85" stroke-linecap="butt"/>
<line x1="186" y1="880.85" x2="196.5" y2="880.85" stroke="#000" stroke-width="3.85" stroke-linecap="butt"/>
<line x1="693.2" y1="880.85" x2="682.7" y2="880.85" stroke="#000" stroke-width="3.85" stroke-linecap="butt"/>
<line x1="186" y1="873.15" x2="196.5" y2="873.15" stroke="#000" stroke-width="3.85" stroke-linecap="butt"/>
<line x1="693.2" y1="873.15" x2="682.7" y2="873.15" stroke="#000" stroke-width="3.85" stroke-linecap="butt"/>
<line x1="186" y1="866.48" x2="196.5" y2="866.48" stroke="#000" stroke-width="3.85" stroke-linecap="butt"/>
<line x1="693.2" y1="866.48" x2="682.7" y2="866.48" stroke="#000" stroke-width="3.85" stroke-linecap="butt"/>
<line x1="186" y1="860.59" x2="196.5" y2="860.59" stroke="#000" stroke-width="3.85" stroke-linecap="butt"/>
<line x1="693.2" y1="860.59" x2="682.7" y2="860.59" stroke="#000" stroke-width="3.85" stroke-linecap="butt"/>
<line x1="186" y1="1050.76" x2="196.5" y2="1050.76" stroke="#000" stroke-width="3.85" stroke-linecap="butt"/>
<line x1="693.2" y1="1050.76" x2="682.7" y2="1050.76" stroke="#000" stroke-width="3.85" stroke-linecap="butt"/>
<line x1="186" y1="1030.51" x2="196.5" y2="1030.51" stroke="#000" stroke-width="3.85" stroke-linecap="butt"/>
<line x1="693.2" y1="1030.51" x2="682.7" y2="1030.51" stroke="#000" stroke-width="3.85" stroke-linecap="butt"/>
<line x1="186" y1="1016.14" x2="196.5" y2="1016.14" stroke="#000" stroke-width="3.85" stroke-linecap="butt"/>
<line x1="693.2" y1="1016.14" x2="682.7" y2="1016.14" stroke="#000" stroke-width="3.85" stroke-linecap="butt"/>
<line x1="186" y1="1004.99" x2="196.5" y2="1004.99" stroke="#000" stroke-width="3.85" stroke-linecap="butt"/>
<line x1="693.2" y1="1004.99" x2="682.7" y2="1004.99" stroke="#000" stroke-width="3.85" stroke-linecap="butt"/>
<line x1="186" y1="995.88" x2="196.5" y2="995.88" stroke="#000" stroke-width="3.85" stroke-linecap="butt"/>
<line x1="693.2" y1="995.88" x2="682.7" y2="995.88" stroke="#000" stroke-width="3.85" stroke-linecap="butt"/>
<line x1="186" y1="988.18" x2="196.5" y2="988.18" stroke="#000" stroke-width="3.85" stroke-linecap="butt"/>
<line x1="693.2" y1="988.18" x2="682.7" y2="988.18" stroke="#000" stroke-width="3.85" stroke-linecap="butt"/>
<line x1="186" y1="981.51" x2="196.5" y2="981.51" stroke="#000" stroke-width="3.85" stroke-linecap="butt"/>
<line x1="693.2" y1="981.51" x2="682.7" y2="981.51" stroke="#000" stroke-width="3.85" stroke-linecap="butt"/>
<line x1="186" y1="975.62" x2="196.5" y2="975.62" stroke="#000" stroke-width="3.85" stroke-linecap="butt"/>
<line x1="693.2" y1="975.62" x2="682.7" y2="975.62" stroke="#000" stroke-width="3.85" stroke-linecap="butt"/>
<line x1="186" y1="1120.02" x2="196.5" y2="1120.02" stroke="#000" stroke-width="3.85" stroke-linecap="butt"/>
<line x1="693.2" y1="1120.02" x2="682.7" y2="1120.02" stroke="#000" stroke-width="3.85" stroke-linecap="butt"/>
<line x1="186" y1="1110.91" x2="196.5" y2="1110.91" stroke="#000" stroke-width="3.85" stroke-linecap="butt"/>
<line x1="693.2" y1="1110.91" x2="682.7" y2="1110.91" stroke="#000" stroke-width="3.85" stroke-linecap="butt"/>
<line x1="186" y1="1103.21" x2="196.5" y2="1103.21" stroke="#000" stroke-width="3.85" stroke-linecap="butt"/>
<line x1="693.2" y1="1103.21" x2="682.7" y2="1103.21" stroke="#000" stroke-width="3.85" stroke-linecap="butt"/>
<line x1="186" y1="1096.54" x2="196.5" y2="1096.54" stroke="#000" stroke-width="3.85" stroke-linecap="butt"/>
<line x1="693.2" y1="1096.54" x2="682.7" y2="1096.54" stroke="#000" stroke-width="3.85" stroke-linecap="butt"/>
<line x1="186" y1="1090.65" x2="196.5" y2="1090.65" stroke="#000" stroke-width="3.85" stroke-linecap="butt"/>
<line x1="693.2" y1="1090.65" x2="682.7" y2="1090.65" stroke="#000" stroke-width="3.85" stroke-linecap="butt"/>
<text x="72.8" y="643.27" font-size="44.5" text-anchor="start"   stroke="#fff" stroke-width="0.49">10</text>
<line x1="118.8" y1="619.07" x2="137.9" y2="619.07" stroke="#000" stroke-width="1.7" stroke-linecap="butt"/>
<text x="163.3" y="627.37" font-size="30" text-anchor="middle"   stroke="#fff" stroke-width="0.33">0</text>
<text x="148" y="627.37" font-size="30" text-anchor="middle"   stroke="#fff" stroke-width="0.33">1</text>
<text x="72.8" y="758.3" font-size="44.5" text-anchor="start"   stroke="#fff" stroke-width="0.49">10</text>
<line x1="118.8" y1="734.1" x2="137.9" y2="734.1" stroke="#000" stroke-width="1.7" stroke-linecap="butt"/>
<text x="163.3" y="742.4" font-size="30" text-anchor="middle"   stroke="#fff" stroke-width="0.33">1</text>
<text x="148" y="742.4" font-size="30" text-anchor="middle"   stroke="#fff" stroke-width="0.33">1</text>
<text x="72.8" y="873.33" font-size="44.5" text-anchor="start"   stroke="#fff" stroke-width="0.49">10</text>
<line x1="118.8" y1="849.13" x2="137.9" y2="849.13" stroke="#000" stroke-width="1.7" stroke-linecap="butt"/>
<text x="163.3" y="857.43" font-size="30" text-anchor="middle"   stroke="#fff" stroke-width="0.33">2</text>
<text x="148" y="857.43" font-size="30" text-anchor="middle"   stroke="#fff" stroke-width="0.33">1</text>
<text x="72.8" y="988.36" font-size="44.5" text-anchor="start"   stroke="#fff" stroke-width="0.49">10</text>
<line x1="118.8" y1="964.16" x2="137.9" y2="964.16" stroke="#000" stroke-width="1.7" stroke-linecap="butt"/>
<text x="163.3" y="972.46" font-size="30" text-anchor="middle"   stroke="#fff" stroke-width="0.33">3</text>
<text x="148" y="972.46" font-size="30" text-anchor="middle"   stroke="#fff" stroke-width="0.33">1</text>
<text x="72.8" y="1103.39" font-size="44.5" text-anchor="start"   stroke="#fff" stroke-width="0.49">10</text>
<line x1="118.8" y1="1079.19" x2="137.9" y2="1079.19" stroke="#000" stroke-width="1.7" stroke-linecap="butt"/>
<text x="163.3" y="1087.49" font-size="30" text-anchor="middle"   stroke="#fff" stroke-width="0.33">4</text>
<text x="148" y="1087.49" font-size="30" text-anchor="middle"   stroke="#fff" stroke-width="0.33">1</text>
<text x="228.5" y="1171.9" font-size="44.5" text-anchor="middle"  textLength="22.2" lengthAdjust="spacingAndGlyphs" stroke="#fff" stroke-width="0.49">0</text>
<text x="419.4" y="1171.9" font-size="44.5" text-anchor="middle"  textLength="22.2" lengthAdjust="spacingAndGlyphs" stroke="#fff" stroke-width="0.49">2</text>
<text x="610.3" y="1171.9" font-size="44.5" text-anchor="middle"  textLength="22.2" lengthAdjust="spacingAndGlyphs" stroke="#fff" stroke-width="0.49">4</text>
<use href="#gz" transform="translate(-651.26,620.44)"/>
<text x="227.3" y="1097.9" font-size="65" text-anchor="start" font-weight="bold" textLength="42.6" lengthAdjust="spacingAndGlyphs" stroke="#fff" stroke-width="1.56">b</text>
<use href="#gf"/>
<use href="#gi"/>
<line x1="1.4" y1="865.2" x2="1.4" y2="901.9" stroke="#000" stroke-width="3" stroke-linecap="butt"/>
</g>
<g id="pd">
<g fill="#f00" stroke="none">
<polyline fill="none" stroke="#f00" stroke-width="4.0" points="880.1,782 950.46,781.4 1020.82,782.6 1091.18,785.6 1161.54,805.9 1231.9,818.8 1302.26,849.3"/>
<rect x="869.15" y="771.05" width="21.9" height="21.9"/>
<rect x="939.51" y="770.45" width="21.9" height="21.9"/>
<rect x="1009.87" y="771.65" width="21.9" height="21.9"/>
<rect x="1080.23" y="774.65" width="21.9" height="21.9"/>
<rect x="1150.59" y="794.95" width="21.9" height="21.9"/>
<rect x="1220.95" y="807.85" width="21.9" height="21.9"/>
<rect x="1291.31" y="838.35" width="21.9" height="21.9"/>
</g>
<g fill="#00f" stroke="none">
<polyline fill="none" stroke="#00f" stroke-width="4.0" points="880.1,1086.7 950.46,1086.7 1020.82,1086.7 1091.18,1086.7 1161.54,1086.7 1231.9,1086.7 1302.26,1086.7"/>
<path d="M880.1 1070.6 L894.2 1094.75 L866 1094.75z"/>
<path d="M950.46 1070.6 L964.56 1094.75 L936.36 1094.75z"/>
<path d="M1020.82 1070.6 L1034.92 1094.75 L1006.72 1094.75z"/>
<path d="M1091.18 1070.6 L1105.28 1094.75 L1077.08 1094.75z"/>
<path d="M1161.54 1070.6 L1175.64 1094.75 L1147.44 1094.75z"/>
<path d="M1231.9 1070.6 L1246 1094.75 L1217.8 1094.75z"/>
<path d="M1302.26 1070.6 L1316.36 1094.75 L1288.16 1094.75z"/>
</g>
<g fill="#00a05c" stroke="none">
<polyline fill="none" stroke="#00a05c" stroke-width="4.0" points="880.1,1052.9 950.46,1053.9 1020.82,1053.5 1091.18,1044.8 1161.54,1031.7 1231.9,1011 1302.26,978.1"/>
<path d="M880.1 1035 L893.4 1052.9 L880.1 1070.8 L866.8 1052.9z"/>
<path d="M950.46 1036 L963.76 1053.9 L950.46 1071.8 L937.16 1053.9z"/>
<path d="M1020.82 1035.6 L1034.12 1053.5 L1020.82 1071.4 L1007.52 1053.5z"/>
<path d="M1091.18 1026.9 L1104.48 1044.8 L1091.18 1062.7 L1077.88 1044.8z"/>
<path d="M1161.54 1013.8 L1174.84 1031.7 L1161.54 1049.6 L1148.24 1031.7z"/>
<path d="M1231.9 993.1 L1245.2 1011 L1231.9 1028.9 L1218.6 1011z"/>
<path d="M1302.26 960.2 L1315.56 978.1 L1302.26 996 L1288.96 978.1z"/>
</g>
<g fill="#000" stroke="none">
<polyline fill="none" stroke="#000" stroke-width="4.0" points="880.1,666.6 950.46,665.5 1020.82,664.7 1091.18,672 1161.54,663.6 1231.9,672 1302.26,674.7"/>
<circle cx="880.1" cy="666.6" r="12.85"/>
<circle cx="950.46" cy="665.5" r="12.85"/>
<circle cx="1020.82" cy="664.7" r="12.85"/>
<circle cx="1091.18" cy="672" r="12.85"/>
<circle cx="1161.54" cy="663.6" r="12.85"/>
<circle cx="1231.9" cy="672" r="12.85"/>
<circle cx="1302.26" cy="674.7" r="12.85"/>
</g>
<rect x="837.8" y="622.2" width="507" height="506.65" rx="3.1" fill="none" stroke="#000" stroke-width="3.85" stroke-linejoin="round"/>
<line x1="880.1" y1="622.2" x2="880.1" y2="637.8" stroke="#000" stroke-width="3.85" stroke-linecap="butt"/>
<line x1="880.1" y1="1128.85" x2="880.1" y2="1113.25" stroke="#000" stroke-width="3.85" stroke-linecap="butt"/>
<line x1="1020.82" y1="622.2" x2="1020.82" y2="637.8" stroke="#000" stroke-width="3.85" stroke-linecap="butt"/>
<line x1="1020.82" y1="1128.85" x2="1020.82" y2="1113.25" stroke="#000" stroke-width="3.85" stroke-linecap="butt"/>
<line x1="1161.54" y1="622.2" x2="1161.54" y2="637.8" stroke="#000" stroke-width="3.85" stroke-linecap="butt"/>
<line x1="1161.54" y1="1128.85" x2="1161.54" y2="1113.25" stroke="#000" stroke-width="3.85" stroke-linecap="butt"/>
<line x1="1302.26" y1="622.2" x2="1302.26" y2="637.8" stroke="#000" stroke-width="3.85" stroke-linecap="butt"/>
<line x1="1302.26" y1="1128.85" x2="1302.26" y2="1113.25" stroke="#000" stroke-width="3.85" stroke-linecap="butt"/>
<line x1="837.8" y1="1086.6" x2="853.4" y2="1086.6" stroke="#000" stroke-width="3.85" stroke-linecap="butt"/>
<line x1="1344.8" y1="1086.6" x2="1329.2" y2="1086.6" stroke="#000" stroke-width="3.85" stroke-linecap="butt"/>
<line x1="837.8" y1="935" x2="853.4" y2="935" stroke="#000" stroke-width="3.85" stroke-linecap="butt"/>
<line x1="1344.8" y1="935" x2="1329.2" y2="935" stroke="#000" stroke-width="3.85" stroke-linecap="butt"/>
<line x1="837.8" y1="783.4" x2="853.4" y2="783.4" stroke="#000" stroke-width="3.85" stroke-linecap="butt"/>
<line x1="1344.8" y1="783.4" x2="1329.2" y2="783.4" stroke="#000" stroke-width="3.85" stroke-linecap="butt"/>
<line x1="837.8" y1="631.8" x2="853.4" y2="631.8" stroke="#000" stroke-width="3.85" stroke-linecap="butt"/>
<line x1="1344.8" y1="631.8" x2="1329.2" y2="631.8" stroke="#000" stroke-width="3.85" stroke-linecap="butt"/>
<line x1="837.8" y1="1010.8" x2="848.3" y2="1010.8" stroke="#000" stroke-width="3.85" stroke-linecap="butt"/>
<line x1="1344.8" y1="1010.8" x2="1334.3" y2="1010.8" stroke="#000" stroke-width="3.85" stroke-linecap="butt"/>
<line x1="837.8" y1="859.2" x2="848.3" y2="859.2" stroke="#000" stroke-width="3.85" stroke-linecap="butt"/>
<line x1="1344.8" y1="859.2" x2="1334.3" y2="859.2" stroke="#000" stroke-width="3.85" stroke-linecap="butt"/>
<line x1="837.8" y1="707.6" x2="848.3" y2="707.6" stroke="#000" stroke-width="3.85" stroke-linecap="butt"/>
<line x1="1344.8" y1="707.6" x2="1334.3" y2="707.6" stroke="#000" stroke-width="3.85" stroke-linecap="butt"/>
<text x="823.4" y="1101.4" font-size="44.5" text-anchor="end"   stroke="#fff" stroke-width="0.49">0</text>
<text x="823.4" y="949.8" font-size="44.5" text-anchor="end"   stroke="#fff" stroke-width="0.49">0.2</text>
<text x="823.4" y="798.2" font-size="44.5" text-anchor="end"   stroke="#fff" stroke-width="0.49">0.4</text>
<text x="823.4" y="646.6" font-size="44.5" text-anchor="end"   stroke="#fff" stroke-width="0.49">0.6</text>
<text x="829.85" y="1177.9" font-size="44.5" text-anchor="start"   stroke="#fff" stroke-width="0.49">10</text>
<line x1="875.85" y1="1153.7" x2="894.95" y2="1153.7" stroke="#000" stroke-width="1.7" stroke-linecap="butt"/>
<text x="920.35" y="1162" font-size="30" text-anchor="middle"   stroke="#fff" stroke-width="0.33">4</text>
<text x="905.05" y="1162" font-size="30" text-anchor="middle"   stroke="#fff" stroke-width="0.33">1</text>
<text x="970.57" y="1177.9" font-size="44.5" text-anchor="start"   stroke="#fff" stroke-width="0.49">10</text>
<line x1="1016.57" y1="1153.7" x2="1035.67" y2="1153.7" stroke="#000" stroke-width="1.7" stroke-linecap="butt"/>
<text x="1061.07" y="1162" font-size="30" text-anchor="middle"   stroke="#fff" stroke-width="0.33">2</text>
<text x="1045.77" y="1162" font-size="30" text-anchor="middle"   stroke="#fff" stroke-width="0.33">1</text>
<text x="1111.29" y="1177.9" font-size="44.5" text-anchor="start"   stroke="#fff" stroke-width="0.49">10</text>
<line x1="1157.29" y1="1153.7" x2="1176.39" y2="1153.7" stroke="#000" stroke-width="1.7" stroke-linecap="butt"/>
<text x="1201.79" y="1162" font-size="30" text-anchor="middle"   stroke="#fff" stroke-width="0.33">0</text>
<text x="1186.49" y="1162" font-size="30" text-anchor="middle"   stroke="#fff" stroke-width="0.33">1</text>
<text x="1259.96" y="1177.9" font-size="44.5" text-anchor="start"   stroke="#fff" stroke-width="0.49">10</text>
<line x1="1306.96" y1="1153.7" x2="1327.86" y2="1153.7" stroke="#000" stroke-width="1.7" stroke-linecap="butt"/>
<text x="1342.46" y="1162" font-size="30" text-anchor="end"   stroke="#fff" stroke-width="0.33">8</text>
<use href="#gf" transform="translate(1957.2,1177.8) rotate(90)"/>
<text x="1085.6" y="1240.6" font-size="43" text-anchor="start"  textLength="14.2" lengthAdjust="spacingAndGlyphs" stroke="#fff" stroke-width="0.47">t</text>
<text x="1102.6" y="1240.6" font-size="43" text-anchor="start"  textLength="22.6" lengthAdjust="spacingAndGlyphs" stroke="#fff" stroke-width="0.47">h</text>
<text x="1268" y="747.6" font-size="64.5" text-anchor="start" font-weight="bold" textLength="41.4" lengthAdjust="spacingAndGlyphs" stroke="#fff" stroke-width="1.55">d</text>
<g transform="translate(761.7,970.72) rotate(-90)">
<text x="0" y="0" font-size="63.5" text-anchor="start"  textLength="17.45" lengthAdjust="spacingAndGlyphs" stroke="#fff" stroke-width="1.0" >f</text>
<text x="17.45" y="0" font-size="63.5" text-anchor="start"  textLength="22.37" lengthAdjust="spacingAndGlyphs" stroke="#fff" stroke-width="1.0" >r</text>
<text x="39.82" y="0" font-size="63.5" text-anchor="start"  textLength="28.55" lengthAdjust="spacingAndGlyphs" stroke="#fff" stroke-width="1.0" >a</text>
<text x="68.37" y="0" font-size="63.5" text-anchor="start"  textLength="25.38" lengthAdjust="spacingAndGlyphs" stroke="#fff" stroke-width="1.0" >c</text>
<text x="93.74" y="0" font-size="63.5" text-anchor="start"  textLength="22.21" lengthAdjust="spacingAndGlyphs" stroke="#fff" stroke-width="1.0" >t</text>
<text x="115.95" y="0" font-size="63.5" text-anchor="start"  textLength="15.86" lengthAdjust="spacingAndGlyphs" stroke="#fff" stroke-width="1.0" >i</text>
<text x="131.81" y="0" font-size="63.5" text-anchor="start"  textLength="28.55" lengthAdjust="spacingAndGlyphs" stroke="#fff" stroke-width="1.0" >o</text>
<text x="160.36" y="0" font-size="63.5" text-anchor="start"  textLength="31.72" lengthAdjust="spacingAndGlyphs" stroke="#fff" stroke-width="1.0" >n</text>
</g>
<g fill="#f00">
<line x1="897.2" y1="838.17" x2="959" y2="838.17" stroke="#f00" stroke-width="4" stroke-linecap="butt"/>
<rect x="917.15" y="827.22" width="21.9" height="21.9"/>
</g>
<text x="969.9" y="850.9" font-size="45.5" text-anchor="start" font-style="italic" textLength="31.2" lengthAdjust="spacingAndGlyphs" stroke="#fff" stroke-width="0.5">F</text>
<text x="997.2" y="857.6" font-size="30.3" text-anchor="start"   stroke="#fff" stroke-width="0.33">U</text>
<g fill="#00f">
<line x1="897.2" y1="887.84" x2="959" y2="887.84" stroke="#00f" stroke-width="4" stroke-linecap="butt"/>
<path d="M928.1 871.74 L942.2 895.89 L914 895.89z"/>
</g>
<text x="969.9" y="900.45" font-size="45.5" text-anchor="start" font-style="italic" textLength="31.2" lengthAdjust="spacingAndGlyphs" stroke="#fff" stroke-width="0.5">F</text>
<text x="997.2" y="907.15" font-size="30.3" text-anchor="start"   stroke="#fff" stroke-width="0.33">C</text>
<g fill="#00a05c">
<line x1="897.2" y1="937.65" x2="959" y2="937.65" stroke="#00a05c" stroke-width="4" stroke-linecap="butt"/>
<path d="M928.1 919.75 L941.4 937.65 L928.1 955.55 L914.8 937.65z"/>
</g>
<text x="969.9" y="950" font-size="45.5" text-anchor="start" font-style="italic" textLength="31.2" lengthAdjust="spacingAndGlyphs" stroke="#fff" stroke-width="0.5">F</text>
<text x="997.2" y="956.7" font-size="30.3" text-anchor="start"   stroke="#fff" stroke-width="0.33">F</text>
<g fill="#000">
<line x1="897.2" y1="987.1" x2="959" y2="987.1" stroke="#000" stroke-width="4" stroke-linecap="butt"/>
<circle cx="928.1" cy="987.1" r="12.85"/>
</g>
<text x="969.9" y="999.55" font-size="45.5" text-anchor="start" font-style="italic" textLength="31.2" lengthAdjust="spacingAndGlyphs" stroke="#fff" stroke-width="0.5">F</text>
<text x="997.2" y="1006.25" font-size="30.3" text-anchor="start"   stroke="#fff" stroke-width="0.33">J</text>
</g>
</svg></body></html>
